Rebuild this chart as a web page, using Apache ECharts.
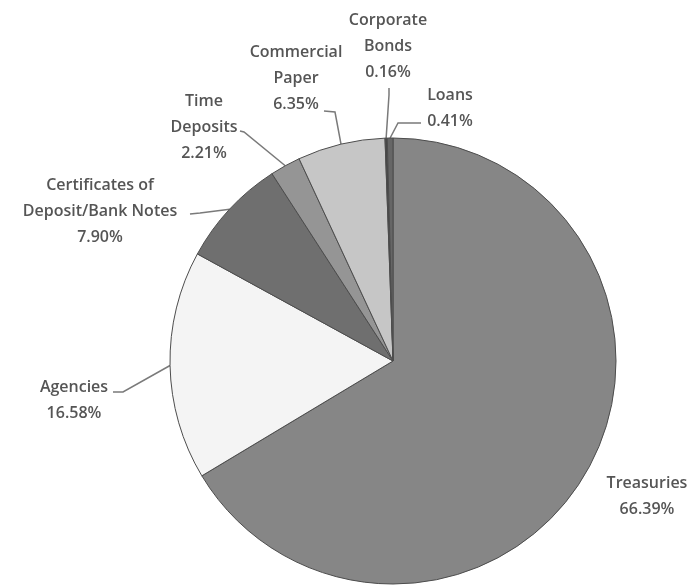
<!DOCTYPE html>
<html>
<head>
<meta charset="utf-8">
<script src="https://cdn.jsdelivr.net/npm/echarts@6/dist/echarts.min.js"></script>
<style>
  html, body { margin: 0; padding: 0; background: #ffffff; }
  #chart { width: 695px; height: 586px; }
</style>
</head>
<body>
<div id="chart"></div>
<script>
// Portfolio composition by investment type (percent of total)
const categories = ['Treasuries', 'Agencies', 'Certificates of Deposit/Bank Notes', 'Time Deposits',
                    'Commercial Paper', 'Corporate Bonds', 'Loans'];
const labelNames = ['Treasuries', 'Agencies', 'Certificates of\nDeposit/Bank Notes', 'Time\nDeposits',
                    'Commercial\nPaper', 'Corporate\nBonds', 'Loans'];
const shares = [66.39, 16.58, 7.90, 2.21, 6.35, 0.16, 0.41];
const sliceColors = ['#868686', '#f4f4f4', '#6f6f6f', '#959595', '#c6c6c6', '#474747', '#666666'];

// Where each label block sits, and the bend/end of its leader line
const labelSpots = [
  { x: 647, y: 496, line: null },
  { x: 74,  y: 400, line: [[123, 392], [113, 392]] },
  { x: 100, y: 211, line: [[200, 213], [190, 214]] },
  { x: 204, y: 127, line: [[244, 132], [240, 131]] },
  { x: 296, y: 78,  line: [[335, 112], [324, 111]] },
  { x: 388, y: 46,  line: [[389, 95], [389, 88]] },
  { x: 450, y: 108, line: [[398, 123], [421, 123]] }
];

const chart = echarts.init(document.getElementById('chart'), null, { renderer: 'canvas' });

const pieData = categories.map((name, i) => ({
  name: name,
  value: shares[i],
  itemStyle: { color: sliceColors[i] },
  labelLine: { show: labelSpots[i].line !== null }
}));

chart.setOption({
  animation: false,
  backgroundColor: '#ffffff',
  series: [{
    type: 'pie',
    center: [393, 361],
    radius: 223,
    startAngle: 90,
    clockwise: true,
    avoidLabelOverlap: false,
    data: pieData,
    itemStyle: { borderColor: '#4d4d4d', borderWidth: 1 },
    emphasis: { disabled: true },
    label: {
      show: true,
      position: 'outside',
      fontFamily: 'Open Sans',
      fontWeight: 600,
      fontSize: 16,
      lineHeight: 26,
      color: '#555555',
      align: 'center',
      formatter: (p) => labelNames[p.dataIndex] + '\n' + shares[p.dataIndex].toFixed(2) + '%'
    },
    labelLine: {
      show: true,
      smooth: false,
      length: 10,
      length2: 10,
      lineStyle: { color: '#7a7a7a', width: 1.5 }
    },
    labelLayout: (params) => {
      const spot = labelSpots[params.dataIndex];
      const out = { x: spot.x, y: spot.y, align: 'center', verticalAlign: 'middle' };
      if (spot.line && params.labelLinePoints) {
        const start = params.labelLinePoints[0];
        out.labelLinePoints = [start, spot.line[0], spot.line[1]];
      }
      return out;
    }
  }]
});
</script>
</body>
</html>
